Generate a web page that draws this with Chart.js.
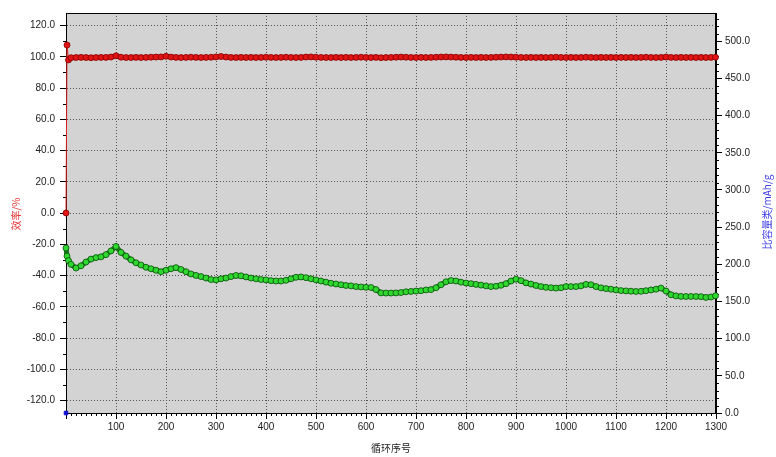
<!DOCTYPE html>
<html>
<head>
<meta charset="utf-8">
<script src="https://cdn.jsdelivr.net/npm/chart.js@4"></script>
<style>
  body { margin: 0; background: #fff; }
  canvas { display: block; }
</style>
</head>
<body>
<canvas id="cycleChart" width="776" height="457"></canvas>
<script>
// Cycle numbers shared by the efficiency and capacity series
const cycles = [
    0, 2, 5,
    10, 20, 30, 40, 50, 60, 70, 80, 90, 100,
    110, 120, 130, 140, 150, 160, 170, 180, 190, 200,
    210, 220, 230, 240, 250, 260, 270, 280, 290, 300,
    310, 320, 330, 340, 350, 360, 370, 380, 390, 400,
    410, 420, 430, 440, 450, 460, 470, 480, 490, 500,
    510, 520, 530, 540, 550, 560, 570, 580, 590, 600,
    610, 620, 630, 640, 650, 660, 670, 680, 690, 700,
    710, 720, 730, 740, 750, 760, 770, 780, 790, 800,
    810, 820, 830, 840, 850, 860, 870, 880, 890, 900,
    910, 920, 930, 940, 950, 960, 970, 980, 990, 1000,
    1010, 1020, 1030, 1040, 1050, 1060, 1070, 1080, 1090, 1100,
    1110, 1120, 1130, 1140, 1150, 1160, 1170, 1180, 1190, 1200,
    1210, 1220, 1230, 1240, 1250, 1260, 1270, 1280, 1290,
    1299,
];

// 效率 (%)
const efficiency = [
    0, 107.5, 98,
    99.4, 99.5, 99.6, 99.5, 99.4, 99.5, 99.6, 99.6, 99.8, 100.6,
    99.7, 99.5, 99.5, 99.6, 99.5, 99.6, 99.7, 99.8, 99.9, 100.3,
    99.8, 99.6, 99.5, 99.6, 99.7, 99.6, 99.5, 99.6, 99.7, 99.9,
    100.2, 99.8, 99.6, 99.5, 99.6, 99.5, 99.6, 99.5, 99.6, 99.7,
    99.6, 99.5, 99.6, 99.7, 99.6, 99.5, 99.6, 99.8, 99.9, 99.7,
    99.6, 99.5, 99.5, 99.6, 99.5, 99.6, 99.5, 99.6, 99.7, 99.6,
    99.5, 99.6, 99.4, 99.5, 99.6, 99.7, 99.8, 99.7, 99.6, 99.5,
    99.6, 99.5, 99.6, 99.7, 99.8, 99.9, 99.8, 99.7, 99.6, 99.5,
    99.6, 99.5, 99.6, 99.5, 99.6, 99.7, 99.8, 99.9, 99.8, 99.7,
    99.6, 99.5, 99.6, 99.5, 99.6, 99.5, 99.6, 99.7, 99.6, 99.5,
    99.6, 99.5, 99.6, 99.7, 99.6, 99.5, 99.6, 99.5, 99.6, 99.5,
    99.6, 99.5, 99.6, 99.5, 99.6, 99.7, 99.6, 99.5, 99.6, 99.8,
    99.6, 99.5, 99.6, 99.5, 99.6, 99.5, 99.6, 99.5, 99.6,
    99.7,
];

// 比容量 (mAh/g)
const capacity = [
    222, 211, 205,
    200, 195, 198, 203, 207, 209, 210, 213, 218, 224,
    216, 211, 206, 202, 199, 196, 194, 192, 190, 192,
    194, 195.5, 193, 190, 187, 185, 183.5, 181.5, 179.5, 179,
    180.5, 181.5, 183.5, 185, 184.5, 183, 181.5, 180.5, 179.5, 179,
    178, 177.5, 177.5, 178.5, 180.5, 182.5, 183, 182, 180.5, 179,
    177.5, 176, 174.5, 173.5, 172.5, 171.5, 171, 170, 169.5, 169,
    168.8, 166, 161.5, 161.3, 161.3, 161.5, 162, 163, 163.5, 164,
    164.5, 165.5, 166, 168.5, 172.5, 176.5, 178.2, 177.5, 176, 174.8,
    174, 173, 172, 171, 170, 170.5, 171.8, 174, 177.5, 180,
    178, 175, 173.4, 171.5, 170, 169, 168.5, 168, 168.5, 170,
    170, 170, 171, 173, 172.5, 170, 168.3, 167.3, 166.5, 165.5,
    164.6, 164.2, 163.8, 163.5, 163.7, 164.5, 165.5, 166.5, 168, 164,
    159, 157.5, 156.8, 156.7, 156.7, 156.7, 156.5, 155.5, 156,
    157.6,
];

// first-cycle points of the second capacity trace
const firstCycles = [0, 1];
const firstCapacity = [0, 216];

const toPoints = (xs, ys) => xs.map((x, i) => ({ x, y: ys[i] }));

const tickFont = { family: "Liberation Sans", size: 10 };
const titleFont = '10px "Noto Sans CJK SC"';

// plot background, box frame, minor ticks and axis titles
const framePlugin = {
    id: "frame",
    beforeDraw(chart) {
        const { ctx, chartArea: a } = chart;
        ctx.save();
        ctx.fillStyle = "#d3d3d3";
        ctx.fillRect(a.left, a.top, a.right - a.left, a.bottom - a.top);
        ctx.restore();
    },
    beforeDatasetsDraw(chart) {
        const { ctx, chartArea: a, scales } = chart;
        ctx.save();
        ctx.strokeStyle = "#000";
        ctx.lineWidth = 1;
        ctx.strokeRect(a.left + 0.5, a.top + 0.5, a.right - a.left - 1, a.bottom - a.top);

        ctx.beginPath();
        for (let v = 10; v < 1300; v += 10) {
            if (v % 100 === 0) continue;
            const px = Math.round(scales.x.getPixelForValue(v)) + 0.5;
            ctx.moveTo(px, a.bottom);
            ctx.lineTo(px, a.bottom + 3);
        }
        for (let v = -120; v <= 120; v += 10) {
            if (v % 20 === 0) continue;
            const py = Math.round(scales.y.getPixelForValue(v)) + 0.5;
            ctx.moveTo(a.left - 3, py);
            ctx.lineTo(a.left, py);
        }
        for (let v = 10; v <= 530; v += 10) {
            if (v % 50 === 0) continue;
            const py = Math.round(scales.y2.getPixelForValue(v)) + 0.5;
            ctx.moveTo(a.right, py);
            ctx.lineTo(a.right + 3, py);
        }
        ctx.stroke();
        ctx.restore();
    },
    afterDraw(chart) {
        const { ctx, chartArea: a } = chart;
        ctx.save();
        ctx.font = titleFont;
        ctx.textAlign = "center";
        ctx.textBaseline = "middle";

        ctx.fillStyle = "#222";
        ctx.fillText("循环序号", (a.left + a.right) / 2, 448);

        ctx.save();
        ctx.translate(16, 214);
        ctx.rotate(-Math.PI / 2);
        ctx.fillStyle = "#e83c3c";
        ctx.fillText("效率/%", 0, 0);
        ctx.restore();

        ctx.save();
        ctx.translate(767, 212);
        ctx.rotate(-Math.PI / 2);
        ctx.fillStyle = "#3c3ce8";
        ctx.fillText("比容量类/mAh/g", 0, 0);
        ctx.restore();

        ctx.restore();
    },
};

new Chart(document.getElementById("cycleChart"), {
    type: "line",
    data: {
        datasets: [
            {
                label: "效率",
                data: toPoints(cycles, efficiency),
                yAxisID: "y",
                borderColor: "#a40808",
                borderWidth: 5,
                // the jump from the first cycle is drawn as a thin line
                segment: {
                    borderWidth: (c) => (c.p0DataIndex < 2 ? 1 : undefined),
                    borderColor: (c) => (c.p0DataIndex < 2 ? "#e02020" : undefined),
                },
                pointRadius: 3,
                pointBackgroundColor: "#e01414",
                pointBorderColor: "#8a0000",
                pointBorderWidth: 0.8,
                clip: false,
            },
            {
                label: "比容量",
                data: toPoints(cycles, capacity),
                yAxisID: "y2",
                borderColor: "#1a7a1a",
                borderWidth: 5,
                pointRadius: 3,
                pointBackgroundColor: "#2ed82e",
                pointBorderColor: "#0b4f0b",
                pointBorderWidth: 0.8,
                clip: false,
            },
            {
                label: "首次",
                data: toPoints(firstCycles, firstCapacity),
                yAxisID: "y2",
                showLine: false,
                pointStyle: "rect",
                pointRadius: 2.5,
                pointBackgroundColor: "#1010d0",
                pointBorderColor: "#1010d0",
                clip: false,
            },
        ],
    },
    options: {
        responsive: false,
        animation: false,
        layout: { padding: { top: 13, left: 0, right: 0, bottom: 0 } },
        plugins: {
            legend: { display: false },
            tooltip: { enabled: false },
        },
        scales: {
            x: {
                type: "linear",
                min: 0,
                max: 1300,
                afterFit: (s) => { s.height = 44; },
                ticks: {
                    stepSize: 100,
                    padding: 2,
                    color: "#222",
                    font: tickFont,
                    maxRotation: 0,
                    callback: (v) => (v === 0 ? "" : String(v)),
                },
                grid: { color: "#555", tickColor: "#000", tickLength: 6 },
                border: { color: "#000", dash: [1, 2] },
            },
            y: {
                position: "left",
                min: -128,
                max: 128,
                afterFit: (s) => { s.width = 66; },
                ticks: {
                    stepSize: 20,
                    includeBounds: false,
                    padding: 5,
                    color: "#222",
                    font: tickFont,
                    callback: (v) => v.toFixed(1),
                },
                grid: { color: "#555", tickColor: "#000", tickLength: 6 },
                border: { color: "#000", dash: [1, 2] },
            },
            y2: {
                position: "right",
                min: 0,
                max: 538,
                afterFit: (s) => { s.width = 60; },
                ticks: {
                    stepSize: 50,
                    includeBounds: false,
                    padding: 3,
                    color: "#222",
                    font: tickFont,
                    callback: (v) => v.toFixed(1),
                },
                grid: { drawOnChartArea: false, tickColor: "#000", tickLength: 6 },
                border: { color: "#000" },
            },
        },
    },
    plugins: [framePlugin],
});
</script>
</body>
</html>
